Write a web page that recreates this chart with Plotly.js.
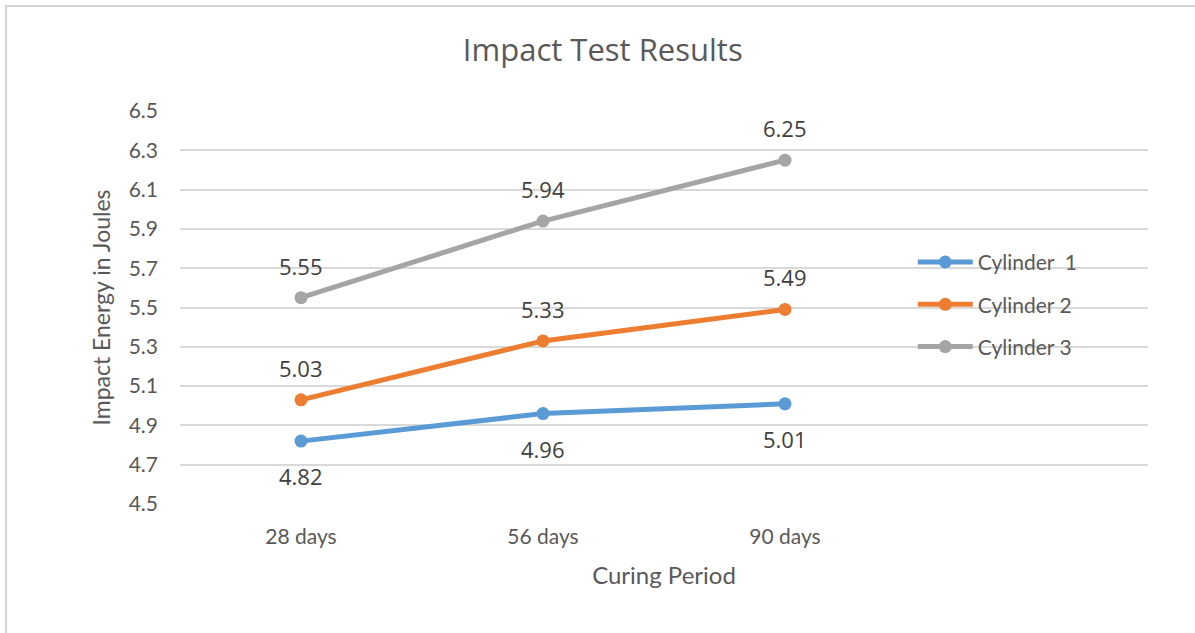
<!DOCTYPE html>
<html>
<head>
<meta charset="utf-8">
<script src="https://cdn.plot.ly/plotly-3.0.1.min.js"></script>
<style>
html,body{margin:0;padding:0;background:#fff;}
#frame{position:absolute;left:5px;top:5px;width:1190px;height:628px;border-left:2px solid #d4d4d4;border-top:2px solid #d4d4d4;box-sizing:border-box;}
#chart{position:absolute;left:0;top:0;width:1188px;height:626px;}
</style>
</head>
<body>
<div id="frame"><div id="chart"></div></div>
<script>
var categories = ["28 days", "56 days", "90 days"];
var seriesNames = ["Cylinder\u00a0 1", "Cylinder 2", "Cylinder 3"];
var cylinder1 = [4.82, 4.96, 5.01];
var cylinder2 = [5.03, 5.33, 5.49];
var cylinder3 = [5.55, 5.94, 6.25];
var yTicks = [4.5, 4.7, 4.9, 5.1, 5.3, 5.5, 5.7, 5.9, 6.1, 6.3, 6.5];

var colors = ["#5B9BD5", "#ED7D31", "#A5A5A5"];
var allSeries = [cylinder1, cylinder2, cylinder3];
var labelShift = [-35, 32, 32];

var traces = allSeries.map(function (vals, i) {
  return {
    x: categories,
    y: vals,
    name: seriesNames[i],
    type: "scatter",
    mode: "lines+markers",
    line: {color: colors[i], width: 5},
    marker: {color: colors[i], size: 13},
    legendgroup: "g" + i,
    hoverinfo: "x+y+name"
  };
});

var annotations = [];
allSeries.forEach(function (vals, i) {
  vals.forEach(function (v, j) {
    annotations.push({
      x: categories[j], y: v, xref: "x", yref: "y",
      text: v.toFixed(2), showarrow: false,
      yshift: labelShift[i],
      font: {family: "Open Sans, sans-serif", size: 22, color: "#404040"}
    });
  });
});

var layout = {
  width: 1188, height: 626,
  margin: {l: 173, r: 47, t: 104, b: 129},
  paper_bgcolor: "#fff", plot_bgcolor: "#fff",
  title: {
    text: "Impact Test Results",
    xref: "container", x: 0.5015, xanchor: "center",
    yref: "container", y: 0.931, yanchor: "middle",
    font: {family: "Open Sans, sans-serif", size: 31, color: "#595959"}
  },
  xaxis: {
    type: "category",
    range: [-0.5, 3.5],
    showgrid: false, zeroline: false, showline: false,
    ticks: "",
    ticklabelstandoff: 18,
    tickfont: {family: "Lato, sans-serif", size: 21, color: "#595959"},
    title: {text: "Curing Period", standoff: 20,
      font: {family: "Lato, sans-serif", size: 24, color: "#595959"}}
  },
  yaxis: {
    range: [4.5, 6.5],
    tickvals: yTicks,
    ticktext: yTicks.map(function (t) { return t.toFixed(1); }),
    showgrid: true, gridcolor: "#D9D9D9", gridwidth: 1.5,
    zeroline: false, showline: false, ticks: "",
    ticklabelstandoff: 21,
    tickfont: {family: "Lato, sans-serif", size: 21, color: "#595959"},
    title: {text: "Impact Energy in Joules", standoff: 11,
      font: {family: "Lato, sans-serif", size: 23, color: "#595959"}}
  },
  legend: {
    x: 0.757, xanchor: "left", y: 0.667, yanchor: "top",
    xref: "paper", yref: "paper",
    traceorder: "grouped", tracegroupgap: 12,
    itemwidth: 55,
    bgcolor: "rgba(0,0,0,0)",
    font: {family: "Lato, sans-serif", size: 21, color: "#595959"}
  },
  showlegend: true,
  annotations: annotations
};

Plotly.newPlot("chart", traces, layout, {displayModeBar: false, responsive: false});
</script>
</body>
</html>
